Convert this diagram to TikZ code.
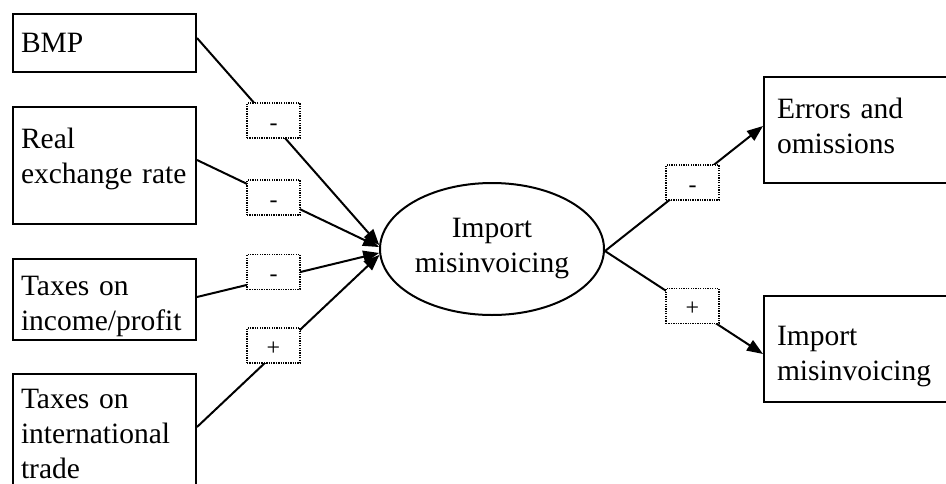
\documentclass[tikz,border=0pt]{standalone}
\usepackage{fontspec}
\setmainfont{Liberation Serif}
\usetikzlibrary{arrows.meta,shapes.geometric}

\begin{document}
\begin{tikzpicture}[x=1pt,y=-1pt,
  txtfont/.style={font=\fontsize{29.5pt}{35pt}\selectfont},
  box/.style={draw, line width=2pt, anchor=north west, inner xsep=8pt,
    inner ysep=0pt, align=left, txtfont},
  outbox/.style={box, inner xsep=13pt, text width=174pt},
  inbox/.style={box, text width=167pt},
  sign/.style={draw, line width=1.3pt, dash pattern=on 1.3pt off 1.1pt,
    fill=white, minimum width=53pt, minimum height=35pt, inner sep=0pt,
    font=\fontsize{24pt}{26pt}\selectfont, text height=19pt, text depth=0pt},
  conn/.style={line width=2pt, -{Triangle[length=16pt,width=12pt]}}
]
\useasboundingbox (0,0) rectangle (946,483);

% explanatory variables
\node[inbox, text height=38pt, text depth=20pt] (bmp) at (12,13) {BMP};
\node[inbox, text height=41pt, text depth=76pt] (rer) at (12,106) {Real\\exchange rate};
\node[inbox, text height=36pt, text depth=45pt] (inc) at (12,258) {Taxes on\\income/profit};
\node[inbox, text height=34pt, text depth=96pt] (trd) at (12,373) {Taxes on\\international\\trade};

% central variable
\node[ellipse, draw, line width=2pt, minimum width=224pt, minimum height=132pt,
  inner sep=0pt, align=center, txtfont] (imp) at (492,249) {Import\\misinvoicing};

% outcomes
\node[outbox, text height=41pt, text depth=65pt] (err) at (763,76) {Errors and\\omissions};
\node[outbox, text height=49pt, text depth=57pt] (imr) at (763,295) {Import\\misinvoicing};

% connectors
\draw[conn] ([yshift=5pt]bmp.east) -- (imp.178);
\draw[conn] ([yshift=5.5pt]rer.east) -- (imp.179);
\draw[conn] ([yshift=2.5pt]inc.east) -- (imp.182);
\draw[conn] ([yshift=12pt]trd.east) -- (imp.183);
\draw[conn] ([yshift=-2pt]imp.east) -- ([yshift=4pt]err.west);
\draw[conn] ([yshift=-2pt]imp.east) -- ([yshift=-5pt]imr.west);

% signs of the effects
\node[sign] (s1) at (273.5,120.5) {-};
\node[sign] (s2) at (273.5,197.5) {-};
\node[sign] (s3) at (273.5,272) {-};
\node[sign] (s4) at (273.5,345.5) {+};
\node[sign] (s5) at (692.5,182.5) {-};
\node[sign] (s6) at (692.5,306) {+};
\end{tikzpicture}
\end{document}
